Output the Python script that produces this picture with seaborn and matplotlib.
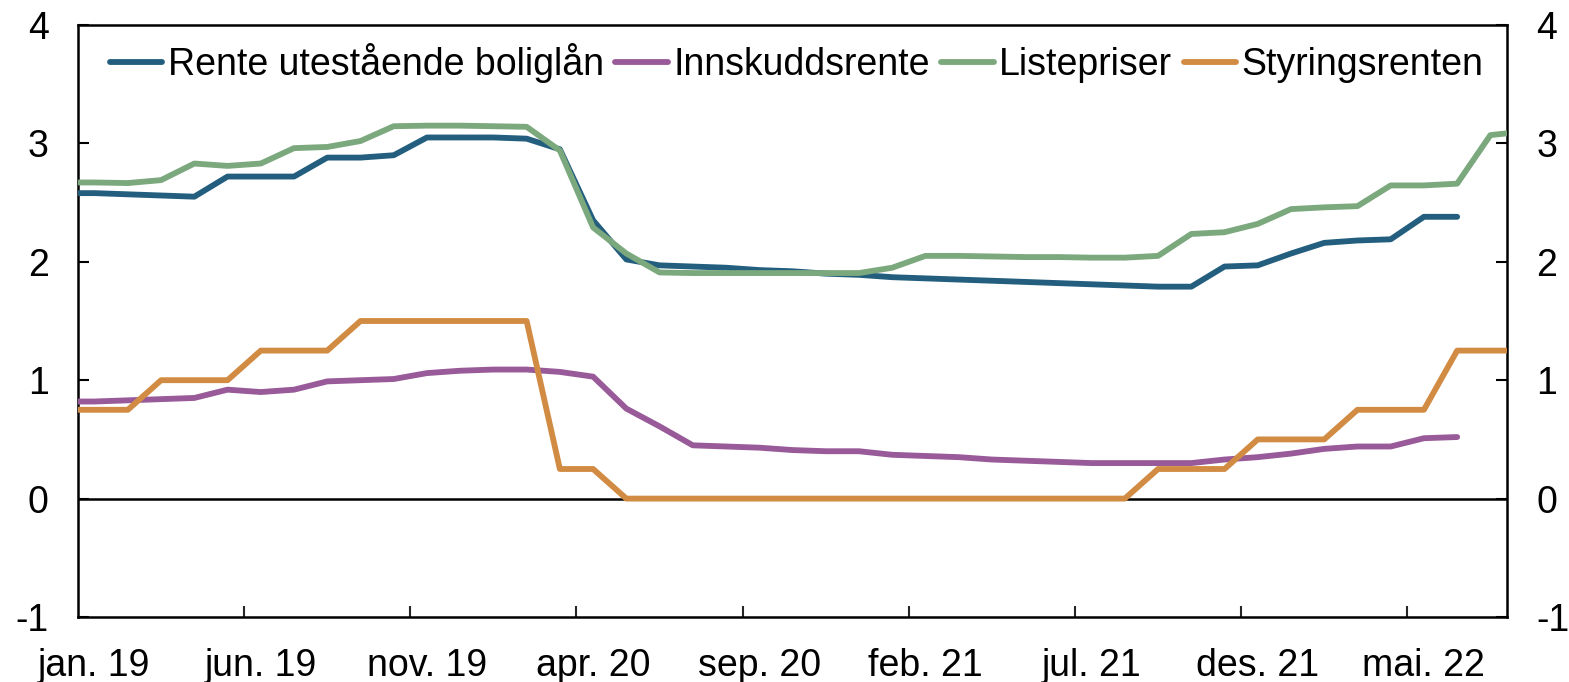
import numpy as np
import pandas as pd
import matplotlib
matplotlib.use("Agg")
import matplotlib.pyplot as plt
import seaborn as sns

# ========================
# DATA (monthly, des. 18 - aug. 22)
# ========================
months = pd.date_range("2018-12-01", "2022-08-01", freq="MS")

boliglan = [2.58,
            2.58, 2.57, 2.56, 2.55, 2.72, 2.72, 2.72, 2.88, 2.88, 2.90, 3.05, 3.05,
            3.05, 3.04, 2.95, 2.35, 2.02, 1.97, 1.96, 1.95, 1.93, 1.92, 1.90, 1.89,
            1.87, 1.86, 1.85, 1.84, 1.83, 1.82, 1.81, 1.80, 1.79, 1.79, 1.96, 1.97,
            2.07, 2.16, 2.18, 2.19, 2.38, 2.38, None, None]

innskudd = [0.82,
            0.82, 0.83, 0.84, 0.85, 0.92, 0.90, 0.92, 0.99, 1.00, 1.01, 1.06, 1.08,
            1.09, 1.09, 1.07, 1.03, 0.76, 0.61, 0.45, 0.44, 0.43, 0.41, 0.40, 0.40,
            0.37, 0.36, 0.35, 0.33, 0.32, 0.31, 0.30, 0.30, 0.30, 0.30, 0.33, 0.35,
            0.38, 0.42, 0.44, 0.44, 0.51, 0.52, None, None]

listepriser = [2.67,
               2.67, 2.665, 2.69, 2.83, 2.81, 2.83, 2.96, 2.97, 3.02, 3.145, 3.15, 3.15,
               3.145, 3.14, 2.94, 2.29, 2.07, 1.91, 1.905, 1.905, 1.905, 1.905, 1.905, 1.905,
               1.95, 2.05, 2.05, 2.045, 2.04, 2.04, 2.035, 2.035, 2.05, 2.235, 2.25, 2.32,
               2.445, 2.46, 2.47, 2.645, 2.645, 2.66, 3.07, 3.10]

styringsrente = [0.75,
                 0.75, 0.75, 1.0, 1.0, 1.0, 1.25, 1.25, 1.25, 1.5, 1.5, 1.5, 1.5,
                 1.5, 1.5, 0.25, 0.25, 0.0, 0.0, 0.0, 0.0, 0.0, 0.0, 0.0, 0.0,
                 0.0, 0.0, 0.0, 0.0, 0.0, 0.0, 0.0, 0.0, 0.25, 0.25, 0.25, 0.5,
                 0.5, 0.5, 0.75, 0.75, 0.75, 1.25, 1.25, 1.25]

series_names = ["Rente utestående boliglån", "Innskuddsrente", "Listepriser", "Styringsrenten"]
colors = ["#235E7E", "#985A98", "#7BA87D", "#D28B42"]

tick_labels = ["jan. 19", "jun. 19", "nov. 19", "apr. 20", "sep. 20",
               "feb. 21", "jul. 21", "des. 21", "mai. 22"]

# month index: jan. 19 = 0
month_idx = np.arange(len(months)) - 1

df = pd.DataFrame({
    "Måned": month_idx,
    series_names[0]: boliglan,
    series_names[1]: innskudd,
    series_names[2]: listepriser,
    series_names[3]: styringsrente,
})
long_df = df.melt(id_vars="Måned", var_name="Serie", value_name="Prosent").dropna()
long_df["Prosent"] = long_df["Prosent"].astype(float)

# ========================
# PLOT
# ========================
sns.set_style("white")
plt.rcParams["font.family"] = ["Liberation Sans", "DejaVu Sans"]
plt.rcParams["axes.unicode_minus"] = False
plt.rcParams["text.color"] = "black"

fig = plt.figure(figsize=(15.69, 6.82), dpi=100)
ax = fig.add_axes([78 / 1569, 1 - 617 / 682, (1507 - 78) / 1569, (617 - 25) / 682])

ax.axhline(0, color="black", lw=1.8, zorder=1)

lw = 4.2
sns.lineplot(data=long_df, x="Måned", y="Prosent", hue="Serie",
             hue_order=series_names, palette=colors, linewidth=lw,
             ax=ax, zorder=3)

ax.set_xlim(-0.5, 42.5)
ax.set_ylim(-1, 4)
ax.set_xlabel("")
ax.set_ylabel("")

fs = 27
ax.set_yticks([-1, 0, 1, 2, 3, 4])
ax.set_yticklabels(["-1", "0", "1", "2", "3", "4"])
ax.tick_params(axis="y", which="major", direction="in", length=8, width=1.5,
               left=True, right=True, labelleft=True, labelright=True,
               labelsize=fs, pad=21, colors="black")

ax.set_xticks(np.arange(0, 41, 5))
ax.set_xticklabels(tick_labels)
ax.set_xticks(np.arange(4.5, 42, 5), minor=True)
ax.tick_params(axis="x", which="major", length=0, labelsize=fs, pad=22, colors="black")
ax.tick_params(axis="x", which="minor", direction="in", length=8, width=1.5,
               bottom=True, top=False)

for side in ["left", "right", "top", "bottom"]:
    ax.spines[side].set_visible(True)
    ax.spines[side].set_color("black")
    ax.spines[side].set_linewidth(1.8)
ax.grid(False)

leg = ax.legend(loc="center", bbox_to_anchor=(0.503, 0.936), ncol=4, frameon=False,
                fontsize=fs, handlelength=1.4, handletextpad=0.15,
                columnspacing=0.3, borderaxespad=0)
for line in leg.get_lines():
    line.set_linewidth(lw)
for txt in leg.get_texts():
    txt.set_color("black")

fig.savefig("out.png", dpi=100)
